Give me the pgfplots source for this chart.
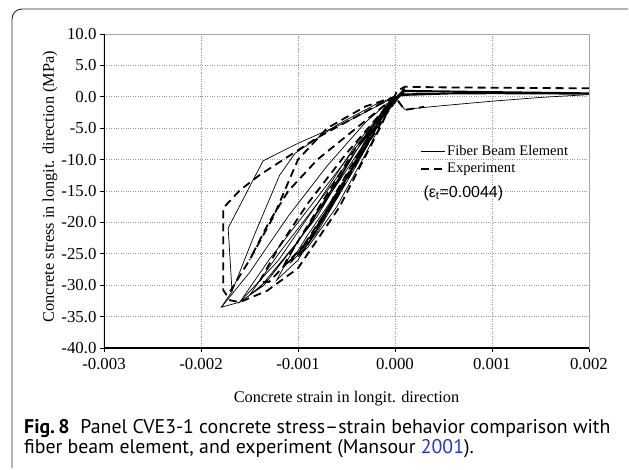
\documentclass[border=0pt]{standalone}
\usepackage{fontspec}
\setmainfont{Liberation Serif}
\newfontfamily\capfont{PT Sans}
\newfontfamily\arial{Liberation Sans}
\usepackage{pgfplots}
\pgfplotsset{compat=1.18}
\definecolor{linkblue}{RGB}{40,50,225}
\begin{document}
\begin{tikzpicture}
\useasboundingbox (0,0) rectangle (629pt,469pt);
\draw[line width=0.9pt, black!85, rounded corners=10pt] (12pt,1pt) -- (12pt,460pt) -- (628pt,460pt);
\begin{axis}[
  at={(104pt,121pt)}, anchor=south west,
  scale only axis, width=485pt, height=314pt,
  xmin=-0.003, xmax=0.002, ymin=-40, ymax=10,
  xtick={-0.003,-0.002,-0.001,0,0.001,0.002},
  ytick={-40,-35,-30,-25,-20,-15,-10,-5,0,5,10},
  scaled x ticks=false,
  xticklabel style={yshift=-3pt, /pgf/number format/.cd, fixed, fixed zerofill, precision=3, assume math mode=true},
  yticklabel style={/pgf/number format/.cd, fixed, fixed zerofill, precision=1, assume math mode=true},
  tick label style={font=\fontsize{16.8}{18}\selectfont},
  label style={font=\fontsize{16.3}{18}\selectfont},
  xtick pos=bottom, ytick pos=left,
  tick align=outside, major tick length=4pt,
  tick style={black, line width=0.8pt},
  grid=major, major grid style={gray!80, dotted, line width=0.7pt},
  axis line style={gray!70, line width=0.6pt},
  xlabel={Concrete strain in longit. direction},
  ylabel={Concrete stress in longit. direction (MPa)},
  xlabel style={at={(axis description cs:0.5,-0.172)}, anchor=base},
  ylabel style={at={(axis description cs:-0.1113,0.514)}, anchor=center},
  legend style={at={(rel axis cs:0.652,0.65)}, anchor=north west, draw=none, fill=none,
    font=\fontsize{14.6}{16}\selectfont, row sep=4.5pt, inner sep=0pt,
    nodes={inner sep=1pt}},
  legend cell align=left,
  legend image code/.code={\draw[#1] (0pt,0pt) -- (24pt,0pt);},
  clip=true,
]
\addlegendimage{black, line width=0.7pt}
\addlegendentry{Fiber Beam Element}
\addlegendimage{black, line width=1.8pt, dash pattern=on 8pt off 5pt}
\addlegendentry{Experiment}

% ---------------- Fiber beam element (solid) ----------------
\addplot[black, line width=0.7pt, forget plot] coordinates {
(0,0) (-0.0003,-9) (-0.0006,-17.5) (-0.0009,-24) (-0.001,-25.5)
(-0.0008,-21.5) (-0.0004,-11) (-0.0001,-2.5) (0.00005,0.6) (0.0001,1.0)
(0.0005,0.8) (0.002,0.45)
(0.0005,0.55) (0.0001,0.5) (0,0) (-0.0005,-13) (-0.0009,-22) (-0.00108,-26.5)
(-0.0009,-23.5) (-0.0005,-13) (-0.0001,-2) (0.0001,0.9) (0.0006,0.7) (0.002,0.4)
(0.0006,0.5) (0.0001,0.4) (0,0) (-0.0006,-14) (-0.001,-23) (-0.00122,-29.2)
(-0.001,-26) (-0.0006,-16) (-0.0002,-4) (0.0001,0.8) (0.0007,0.7) (0.002,0.5)
(0.0006,0.45) (0.0001,0.3) (0,0) (-0.0007,-15) (-0.0012,-25) (-0.0015,-31.6)
(-0.0013,-29) (-0.0008,-19) (-0.0003,-6) (0.0001,0.9) (0.0008,0.75) (0.002,0.55)
(0.0007,0.5) (0.0001,0.3) (0,0) (-0.0008,-16) (-0.0013,-26) (-0.0016,-32.7)
(-0.00135,-30) (-0.0009,-21) (-0.0004,-8.5) (0.0001,1.0) (0.0009,0.8) (0.002,0.6)
(0.0008,0.55) (0.0001,0.2) (0,0) (-0.0005,-4) (-0.001,-7.4) (-0.00136,-10.2)
(-0.00172,-20.9) (-0.00168,-31) (-0.00179,-33.5) (-0.0016,-32.7) (-0.0014,-30.5)
(-0.001,-23) (-0.0005,-11) (-0.0001,-1.5) (0.0001,1.05) (0.001,0.85) (0.002,0.65)
};
\addplot[black, line width=0.7pt, forget plot] coordinates {
(-0.00168,-31) (-0.00145,-22) (-0.00119,-12.5) (-0.00103,-9) (-0.0006,-4.5) (-0.0002,-1.2) (0,0)
};
\addplot[black, line width=0.7pt, forget plot] coordinates {
(-0.00179,-33.5) (-0.0015,-28) (-0.0011,-19) (-0.0007,-11) (-0.0003,-4) (0,0)
};
\addplot[black, line width=0.7pt, forget plot] coordinates {
(-0.0016,-32.7) (-0.0012,-26) (-0.0008,-17) (-0.0004,-7.5) (0,0)
};
\addplot[black, line width=0.7pt, forget plot] coordinates {
(0.00003,-0.8) (0.0001,-2.0) (0.0005,-1.4) (0.001,-0.7) (0.0015,-0.1) (0.002,0.35)
};

% ---------------- Experiment (dashed) ----------------
\addplot[black, line width=1.8pt, dash pattern=on 8pt off 5pt, forget plot] coordinates {
(0,0) (-0.0002,-1.5) (-0.0005,-4) (-0.0008,-6.5) (-0.0011,-9.5) (-0.0014,-12.5)
(-0.0016,-14.9) (-0.00177,-17.7) (-0.00177,-24) (-0.00177,-30.8) (-0.0017,-32.4)
(-0.0016,-32.7) (-0.00132,-30.9) (-0.001,-27.3) (-0.00057,-17.5) (-0.00036,-11.1)
(-0.00015,-4.8) (-0.00005,-1.5) (0.00002,0.9) (0.0001,1.6) (0.0005,1.5) (0.002,1.35)
};
\addplot[black, line width=1.8pt, dash pattern=on 8pt off 5pt, forget plot] coordinates {
(0,0) (-0.0003,-7) (-0.0006,-15) (-0.0008,-21) (-0.00095,-24) (-0.0009,-23.5)
(-0.0006,-16) (-0.0003,-8) (-0.0001,-2) (0.0001,1.2)
};
\addplot[black, line width=1.8pt, dash pattern=on 8pt off 5pt, forget plot] coordinates {
(0,0) (-0.0004,-8) (-0.0008,-18) (-0.0011,-25.5) (-0.00115,-27) (-0.001,-25)
(-0.0007,-18) (-0.0004,-10) (-0.0001,-2) (0.0001,1.3)
};
\addplot[black, line width=1.8pt, dash pattern=on 8pt off 5pt, forget plot] coordinates {
(0,0) (-0.0005,-9) (-0.0009,-17) (-0.0012,-24) (-0.0014,-29.5) (-0.0013,-29.5)
(-0.0009,-23) (-0.0005,-13) (-0.0001,-3) (0.0001,1.4)
};
\addplot[black, line width=1.8pt, dash pattern=on 8pt off 5pt, forget plot] coordinates {
(-0.0017,-31) (-0.0015,-26) (-0.00125,-19) (-0.001,-10) (-0.0007,-5) (-0.0003,-1.5) (0,0)
};
\addplot[black, line width=1.8pt, dash pattern=on 8pt off 5pt, forget plot] coordinates {
(0,0) (-0.0004,-5) (-0.0008,-10) (-0.0011,-15) (-0.0013,-20) (-0.0015,-26)
};
\addplot[black, line width=1.8pt, dash pattern=on 8pt off 5pt, forget plot] coordinates {
(0.00003,-0.6) (0.0001,-2.1) (0.0003,-1.6)
};

\draw[black, line width=1.6pt] (rel axis cs:0,1) -- (rel axis cs:0,0) -- (rel axis cs:1,0);
\end{axis}
\node[anchor=west, font=\arial\fontsize{16}{18}\selectfont] at (420pt,276pt) {(ε\textsubscript{t}=0.0044)};
\node[anchor=base west, inner sep=0pt, font=\capfont\fontsize{19.8}{22}\selectfont] at (24pt,36pt)
  {\textbf{Fig.\,8}\hspace{0.55em}Panel CVE3-1 concrete stress–strain behavior comparison with};
\node[anchor=base west, inner sep=0pt, font=\capfont\fontsize{19.8}{22}\selectfont] at (24pt,16pt)
  {fiber beam element, and experiment (Mansour \textcolor{linkblue}{2001}).};
\end{tikzpicture}
\end{document}
